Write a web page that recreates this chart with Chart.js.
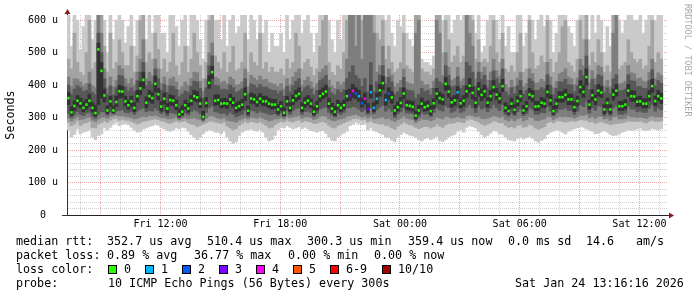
<!DOCTYPE html>
<html><head><meta charset="utf-8">
<script src="https://cdn.jsdelivr.net/npm/chart.js@4/dist/chart.umd.min.js"></script>
<style>
html,body{margin:0;padding:0;background:#fff;}
#wrap{position:relative;width:697px;height:297px;overflow:hidden;background:#fff;}
canvas{position:absolute;left:0;top:0;}
.t{position:absolute;font-family:'DejaVu Sans Mono',monospace;font-size:11.7px;line-height:14px;color:#000;white-space:pre;}
.box{position:absolute;width:7px;height:7px;border:1px solid #000;}
#wm{position:absolute;left:683px;top:4px;writing-mode:vertical-rl;font-family:'DejaVu Sans Mono',monospace;font-size:8.5px;line-height:10px;color:#a8a8a8;white-space:pre;}
</style></head><body>
<div id="wrap">
<canvas id="c" width="697" height="297"></canvas>
<div id="wm">RRDTOOL / TOBI OETIKER</div>
<div class="t" style="left:16px;top:234px">median rtt:</div>
<div class="t" style="left:107px;top:234px">352.7 us avg</div>
<div class="t" style="left:207px;top:234px">510.4 us max</div>
<div class="t" style="left:307px;top:234px">300.3 us min</div>
<div class="t" style="left:408px;top:234px">359.4 us now</div>
<div class="t" style="left:508px;top:234px">0.0 ms sd</div>
<div class="t" style="left:586px;top:234px">14.6</div>
<div class="t" style="left:636px;top:234px">am/s</div>
<div class="t" style="left:16px;top:248px">packet loss:</div>
<div class="t" style="left:107px;top:248px">0.89 % avg</div>
<div class="t" style="left:194px;top:248px">36.77 % max</div>
<div class="t" style="left:288px;top:248px">0.00 % min</div>
<div class="t" style="left:374px;top:248px">0.00 % now</div>
<div class="t" style="left:16px;top:262px">loss color:</div>
<div id="lossLegend"></div>
<div class="t" style="left:16px;top:276px">probe:</div>
<div class="t" style="left:108px;top:276px">10 ICMP Echo Pings (56 Bytes) every 300s</div>
<div class="t" style="left:515px;top:276px">Sat Jan 24 13:16:16 2026</div>
</div>
<script>
// time axis (hours since Fri 00:00)
const hourStart = 7.316;
const hourEnd = 37.43;
const slotHours = 0.15;
const xGridHours = [8,9,10,11,12,13,14,15,16,17,18,19,20,21,22,23,24,25,26,27,28,29,30,31,32,33,34,35,36,37];
const xLabelHours = [12,18,24,30,36];
const xLabels = ['Fri 12:00','Fri 18:00','Sat 00:00','Sat 06:00','Sat 12:00'];
const yLabels = ['0  ','100 u','200 u','300 u','400 u','500 u','600 u'];

// median rtt (us) per slot
const med = [360,316,336,352,344,330,340,352,330,314,
510,444,368,322,350,322,348,381,380,350,
338,350,330,366,390,416,346,366,360,404,
372,334,358,328,354,352,338,310,318,338,
328,352,366,362,343,302,345,407,440,352,
354,343,344,343,356,346,330,335,340,372,
321,359,356,348,358,350,350,343,340,340,
325,335,315,350,330,353,367,373,330,346,
352,343,318,335,366,373,380,343,328,318,
338,330,338,366,368,382,374,366,344,358,
326,378,330,358,384,406,354,374,362,322,
332,345,374,338,336,333,306,322,343,332,
336,320,344,374,360,356,404,380,347,353,
378,344,352,381,398,376,346,388,370,381,
346,366,394,371,359,397,330,320,343,324,
351,366,322,335,371,366,334,335,346,343,
379,353,320,343,363,363,370,356,356,332,
351,394,379,425,340,369,356,383,377,325,
345,325,371,383,335,335,340,383,366,365,
349,350,343,343,366,397,351,366,359];

// sorted ping values (us), p1 = fastest ... p10 = slowest
const p1 = [262,240,248,265,250,255,258,262,240,232,
245,250,268,262,270,280,285,275,280,282,
278,270,262,255,258,265,268,272,275,280,
276,270,265,260,258,262,268,265,270,268,
258,248,240,232,238,250,258,262,260,255,
255,250,258,240,228,220,225,245,255,260,
262,265,260,258,262,255,240,228,232,245,
262,270,268,275,270,265,268,272,266,270,
265,260,258,255,258,260,252,240,230,228,
240,248,252,258,275,280,285,282,278,280,
262,268,260,256,252,248,240,238,230,225,
240,248,255,250,246,244,238,232,228,235,
238,232,236,242,230,226,232,240,245,248,
258,262,255,270,275,272,268,258,248,240,
245,252,260,258,250,248,240,232,230,228,
236,240,234,238,242,236,228,224,230,235,
248,255,258,262,260,255,250,258,262,266,
268,272,270,265,262,258,250,252,256,260,
255,248,244,246,250,255,258,262,260,262,
265,268,262,260,262,266,264,262,265];
const p2 = [285,275,280,290,276,282,285,288,270,268,
280,285,290,285,292,296,298,292,295,292,
292,288,284,280,284,288,290,292,294,296,
294,290,288,284,282,286,290,286,288,290,
284,280,278,272,276,280,284,288,290,286,
284,282,286,274,268,262,266,276,282,288,
284,288,286,284,288,282,276,268,270,278,
284,288,286,292,288,286,290,292,286,290,
288,286,282,282,286,288,284,276,270,268,
276,280,284,288,292,296,298,296,292,294,
286,290,284,282,280,280,276,274,268,264,
274,280,286,282,278,276,270,266,270,272,
272,268,272,280,274,270,278,282,282,284,
288,286,284,292,296,294,290,286,280,276,
280,284,290,288,284,284,276,270,272,268,
276,278,270,272,280,276,268,264,268,272,
284,288,284,290,290,288,286,288,290,288,
290,294,292,292,286,288,282,286,288,284,
282,278,280,282,282,284,286,290,288,288,
288,290,286,284,288,292,288,288,290];
const p3 = [298,290,296,302,294,296,300,302,292,288,
295,300,302,298,304,306,308,305,306,303,
302,300,296,298,302,304,302,306,305,308,
304,300,300,296,296,298,302,294,298,300,
296,298,300,296,294,288,298,304,306,302,
298,296,300,292,290,288,286,292,296,300,
296,302,300,298,302,298,294,290,292,296,
296,300,296,304,300,302,304,306,298,302,
302,300,294,298,304,306,304,296,292,290,
294,296,298,304,306,308,310,306,302,304,
298,304,296,298,300,302,296,298,292,288,
294,298,304,298,296,294,284,290,296,294,
294,290,294,302,298,296,304,302,298,300,
304,300,298,306,308,306,302,304,298,296,
298,302,306,304,300,304,294,290,296,290,
296,300,290,294,302,300,292,290,294,296,
304,302,294,300,304,302,304,302,302,298,
302,308,306,310,300,304,298,304,304,296,
298,292,302,304,296,296,298,306,302,302,
300,302,300,298,302,306,302,302,302];
const p4 = [312,300,308,318,310,306,314,316,304,298,
310,318,318,308,318,312,320,322,324,316,
314,318,310,320,326,330,318,322,320,328,
322,312,318,306,316,314,312,298,304,314,
308,318,324,320,312,292,316,330,336,318,
316,312,314,308,316,310,302,306,310,322,
304,322,320,314,320,316,314,310,310,312,
306,314,302,322,310,322,328,330,310,318,
320,316,304,312,326,330,332,316,308,302,
314,310,316,330,330,334,332,326,318,324,
310,330,312,324,332,338,320,328,320,300,
312,318,330,314,314,312,292,302,316,310,
312,304,316,330,324,320,336,330,316,320,
330,316,320,332,340,330,316,336,326,330,
318,328,340,330,322,340,310,304,316,306,
318,326,306,312,330,326,310,310,316,314,
334,320,306,316,326,326,330,322,322,310,
320,340,334,350,314,330,322,336,334,306,
316,306,330,336,310,310,314,336,326,326,
318,320,316,316,328,340,320,328,324];
const p5 = [340,306,322,336,330,318,326,334,318,304,
340,360,348,312,334,314,334,360,362,336,
326,334,318,348,370,390,330,350,344,380,
354,320,342,314,338,336,324,302,308,326,
316,338,352,348,330,296,332,390,420,338,
340,330,332,328,342,332,316,320,326,352,
310,344,342,334,344,336,336,330,326,328,
312,322,306,336,318,340,350,356,318,332,
338,330,308,322,350,358,364,330,316,306,
326,318,326,350,352,362,358,350,332,342,
316,360,318,342,366,386,338,356,344,308,
320,332,358,324,322,320,296,310,330,320,
322,308,328,356,344,340,384,362,332,338,
358,330,336,362,378,358,330,366,352,362,
332,352,378,356,344,380,318,310,330,312,
336,350,312,322,356,350,322,322,332,330,
362,338,310,328,348,348,354,340,340,318,
336,376,362,400,326,352,340,366,362,312,
330,312,354,366,322,322,326,366,350,350,
334,336,330,330,352,378,336,352,344];
const p6 = [378,334,352,368,360,348,356,372,346,338,
530,470,388,336,366,336,366,400,396,366,
352,366,346,384,410,440,364,384,378,428,
390,350,376,344,370,368,354,326,336,354,
344,368,384,380,360,320,362,430,458,370,
370,358,360,358,372,362,346,350,356,392,
336,376,372,364,374,366,366,360,356,356,
340,350,330,366,346,370,384,392,346,362,
368,358,334,350,384,392,400,360,344,336,
354,346,354,384,388,402,392,384,360,376,
344,400,346,376,402,428,372,392,380,336,
348,362,392,354,352,350,320,338,360,348,
352,336,358,390,378,372,424,398,362,368,
396,358,368,398,420,394,362,408,388,400,
362,384,414,390,376,418,346,336,360,340,
366,384,338,350,390,384,350,350,362,358,
400,370,336,358,380,380,388,372,372,348,
366,414,398,450,354,386,370,402,396,340,
360,340,388,402,350,350,356,402,384,382,
364,366,358,358,384,418,366,384,376];
const p7 = [400,372,388,398,392,380,384,404,378,370,
560,500,420,370,398,370,392,430,428,395,
382,392,380,414,440,470,398,412,404,450,
420,384,402,378,398,396,386,364,372,382,
378,396,412,410,390,360,392,460,490,400,
398,386,388,386,400,392,378,382,388,420,
372,404,400,392,402,394,394,388,384,384,
374,382,366,396,380,398,412,420,380,392,
398,388,370,384,414,420,430,392,376,370,
386,378,386,420,440,460,430,420,396,420,
380,470,380,410,432,460,404,424,410,372,
380,392,424,386,384,382,360,372,390,380,
384,370,390,420,410,404,460,430,394,398,
426,390,398,470,460,440,396,440,418,430,
392,414,444,420,406,450,380,370,392,374,
398,414,372,384,420,412,384,384,392,388,
432,400,370,390,410,410,418,402,400,380,
398,446,430,490,386,418,400,432,428,376,
392,374,420,432,382,384,388,432,414,412,
396,396,390,390,414,448,398,414,406];
const p8 = [425,395,420,418,410,398,405,440,398,392,
640,560,450,392,425,395,415,460,450,420,
405,420,400,440,480,540,420,440,428,480,
450,405,425,398,420,425,410,385,395,410,
400,420,440,438,412,382,418,500,530,425,
420,408,412,405,425,418,400,402,410,450,
395,430,422,415,428,416,418,408,405,402,
395,405,388,420,402,425,440,450,400,415,
425,410,392,405,440,450,460,415,398,390,
410,400,410,480,640,640,520,640,480,640,
640,640,560,440,460,520,425,450,432,395,
405,415,450,410,405,402,560,600,412,400,
402,390,412,600,560,430,500,455,415,420,
455,412,420,640,560,520,420,470,440,455,
415,440,480,445,428,480,402,392,415,396,
422,440,395,405,450,436,405,408,418,412,
470,425,392,412,435,440,450,425,420,402,
422,480,460,540,408,445,422,460,455,398,
415,396,560,640,404,406,412,460,438,435,
420,422,412,410,440,480,420,438,430];
const p9 = [480,450,560,470,440,430,500,600,450,470,
640,620,520,440,560,450,470,540,500,460,
460,520,440,490,600,640,470,500,480,560,
510,450,480,440,470,560,460,430,470,520,
440,480,560,500,460,420,470,600,640,490,
470,450,500,440,470,520,445,450,470,560,
440,500,470,460,560,450,470,440,455,440,
440,450,430,480,450,470,560,520,450,470,
480,455,430,450,520,600,640,470,440,430,
460,450,500,600,640,640,640,640,600,640,
640,640,640,560,540,600,480,520,470,440,
450,470,560,460,450,440,640,640,450,440,
440,430,450,640,640,500,600,540,470,490,
520,470,490,640,640,600,480,540,470,480,
470,520,600,500,470,560,450,440,460,440,
500,560,440,450,600,500,450,460,490,470,
600,480,440,470,500,580,600,470,460,440,
480,600,540,640,460,500,470,540,500,440,
460,440,640,640,450,460,470,540,500,480,
470,480,450,460,520,600,470,500,480];
const p10 = [640,520,640,600,510,580,640,640,540,600,
640,640,600,500,640,540,600,640,600,530,
580,640,520,600,640,640,540,620,560,640,
640,560,560,500,620,640,580,520,600,640,
520,620,640,600,540,480,600,640,640,600,
600,540,640,520,600,640,560,580,620,640,
540,640,600,540,640,560,600,500,560,520,
520,560,500,620,540,600,640,640,560,600,
620,560,500,560,640,640,640,600,540,500,
600,540,640,640,640,640,640,640,640,640,
640,640,640,640,640,640,600,640,560,520,
600,580,640,560,540,520,640,640,480,470,
470,460,490,640,640,600,640,640,560,600,
640,600,620,640,640,640,560,640,500,520,
600,640,640,600,540,640,520,580,500,500,
640,640,520,560,640,600,540,600,640,580,
640,600,500,560,620,640,640,580,560,520,
600,640,640,640,540,620,560,640,600,500,
580,520,640,640,600,560,600,640,620,600,
600,640,560,600,640,640,600,640,620];

// lost pings per slot (only non-zero slots)
const lossSlots  = [94,95,96,97,98,99,100,101,102,103,106,107,130];
const lossCounts = [3, 4, 2, 1, 2, 4, 3,  1,  1,  1,  1,  2,  1];
const lossColors = ['#26ff00','#00b8ff','#0059ff','#7e00ff','#ff00ff','#ff5500','#ff0000','#a10000'];
const lossLabels = ['0','1','2','3','4','5','6-9','10/10'];

// legend boxes
(function(){
  const host = document.getElementById('lossLegend');
  const boxX = [108,145,182,219,256,293,330,382];
  lossLabels.forEach((lab,k)=>{
    const b = document.createElement('div');
    b.className='box'; b.style.left=boxX[k]+'px'; b.style.top='265px'; b.style.background=lossColors[k];
    host.appendChild(b);
    const t = document.createElement('div');
    t.className='t'; t.style.left=(boxX[k]+16)+'px'; t.style.top='262px'; t.textContent=lab;
    host.appendChild(t);
  });
})();

const lossBySlot = med.map(()=>0);
lossSlots.forEach((s,k)=>{ lossBySlot[s] = lossCounts[k]; });

const slotX = i => hourStart + (i + 0.5) * slotHours;
const band = (lo, hi) => lo.map((v,i)=>({x: slotX(i), y:[v, hi[i]]}));

const bandDefs = [
  [p1,p10,'#cacaca',6],
  [p2,p9,'#a4a4a4',5],
  [p3,p8,'#7e7e7e',4],
  [p4,p7,'#585858',3],
  [p5,p6,'#323232',2]
];
const datasets = bandDefs.map(([lo,hi,col,ord])=>({
  type:'bar', data: band(lo,hi), backgroundColor: col, order: ord,
  grouped:false, barPercentage:1, categoryPercentage:1, borderWidth:0
}));
datasets.push({
  type:'bar', order:1, grouped:false, barPercentage:0.8, categoryPercentage:1, borderWidth:0,
  data: med.map((m,i)=>({x: slotX(i), y:[m-4, m+4]})),
  backgroundColor: ctx => lossColors[lossBySlot[ctx.dataIndex] || 0]
});

const majorGrid = 'rgba(205,40,40,0.42)';
const minorGrid = 'rgba(150,150,150,0.45)';
const monoFont = {family:"'DejaVu Sans Mono', monospace", size:10};

const decor = {
  id:'decor',
  afterDraw(chart){
    const {ctx, chartArea:a} = chart;
    const ax = Math.round(a.left)+0.5, ay = Math.round(a.bottom)+0.5;
    ctx.save();
    ctx.strokeStyle = '#333'; ctx.lineWidth = 1;
    ctx.beginPath();
    ctx.moveTo(ax, a.top); ctx.lineTo(ax, a.top-4);
    ctx.moveTo(a.left-5, ay); ctx.lineTo(a.left, ay);
    ctx.moveTo(a.right, ay); ctx.lineTo(a.right+2, ay);
    ctx.stroke();
    ctx.fillStyle = '#8b1a1a';
    ctx.beginPath();
    ctx.moveTo(ax-3, a.top-1); ctx.lineTo(ax+3, a.top-1); ctx.lineTo(ax, a.top-6); ctx.closePath(); ctx.fill();
    ctx.beginPath();
    ctx.moveTo(a.right+1, ay-3); ctx.lineTo(a.right+1, ay+3); ctx.lineTo(a.right+6, ay); ctx.closePath(); ctx.fill();
    ctx.restore();
  }
};

new Chart(document.getElementById('c'), {
  type:'bar',
  data:{ datasets },
  options:{
    responsive:false, animation:false, devicePixelRatio:1, events:[],
    layout:{ padding:{ left:0, right:29, top:14, bottom:66 } },
    plugins:{ legend:{display:false}, tooltip:{enabled:false} },
    scales:{
      x:{
        type:'linear', min:hourStart, max:hourEnd, offset:false, z:1,
        afterBuildTicks: s => { s.ticks = xGridHours.map(v=>({value:v})); },
        afterFit: s => { s.height = 16; },
        grid:{ offset:false, drawTicks:false, lineWidth:1,
               color: c => (c.tick && c.tick.value % 3 === 0) ? majorGrid : minorGrid },
        border:{ display:true, color:'#222', width:1, dash:[1,1] },
        ticks:{ autoSkip:false, maxRotation:0, minRotation:0, padding:3, font:monoFont, color:'#000',
                callback: v => { const k = xLabelHours.indexOf(v); return k >= 0 ? xLabels[k] : ''; } }
      },
      y:{
        min:0, max:616, z:1,
        afterBuildTicks: s => { const t=[]; for (let v=0; v<=600; v+=20) t.push({value:v}); s.ticks = t; },
        afterFit: s => { s.width = 67; },
        grid:{ drawTicks:false, lineWidth:1,
               color: c => (!c.tick || c.tick.value === 0) ? 'rgba(0,0,0,0)' : (c.tick.value % 100 === 0 ? majorGrid : minorGrid) },
        border:{ display:true, color:'#333', width:1, dash:[1,1] },
        ticks:{ autoSkip:false, padding:9, font:monoFont, color:'#000',
                callback: v => (v % 100 === 0) ? yLabels[v/100] : '' },
        title:{ display:true, text:'Seconds', color:'#000',
                font:{family:"'DejaVu Sans Mono', monospace", size:11.7}, padding:{top:4,bottom:0} }
      }
    }
  },
  plugins:[decor]
});
</script>
</body></html>
